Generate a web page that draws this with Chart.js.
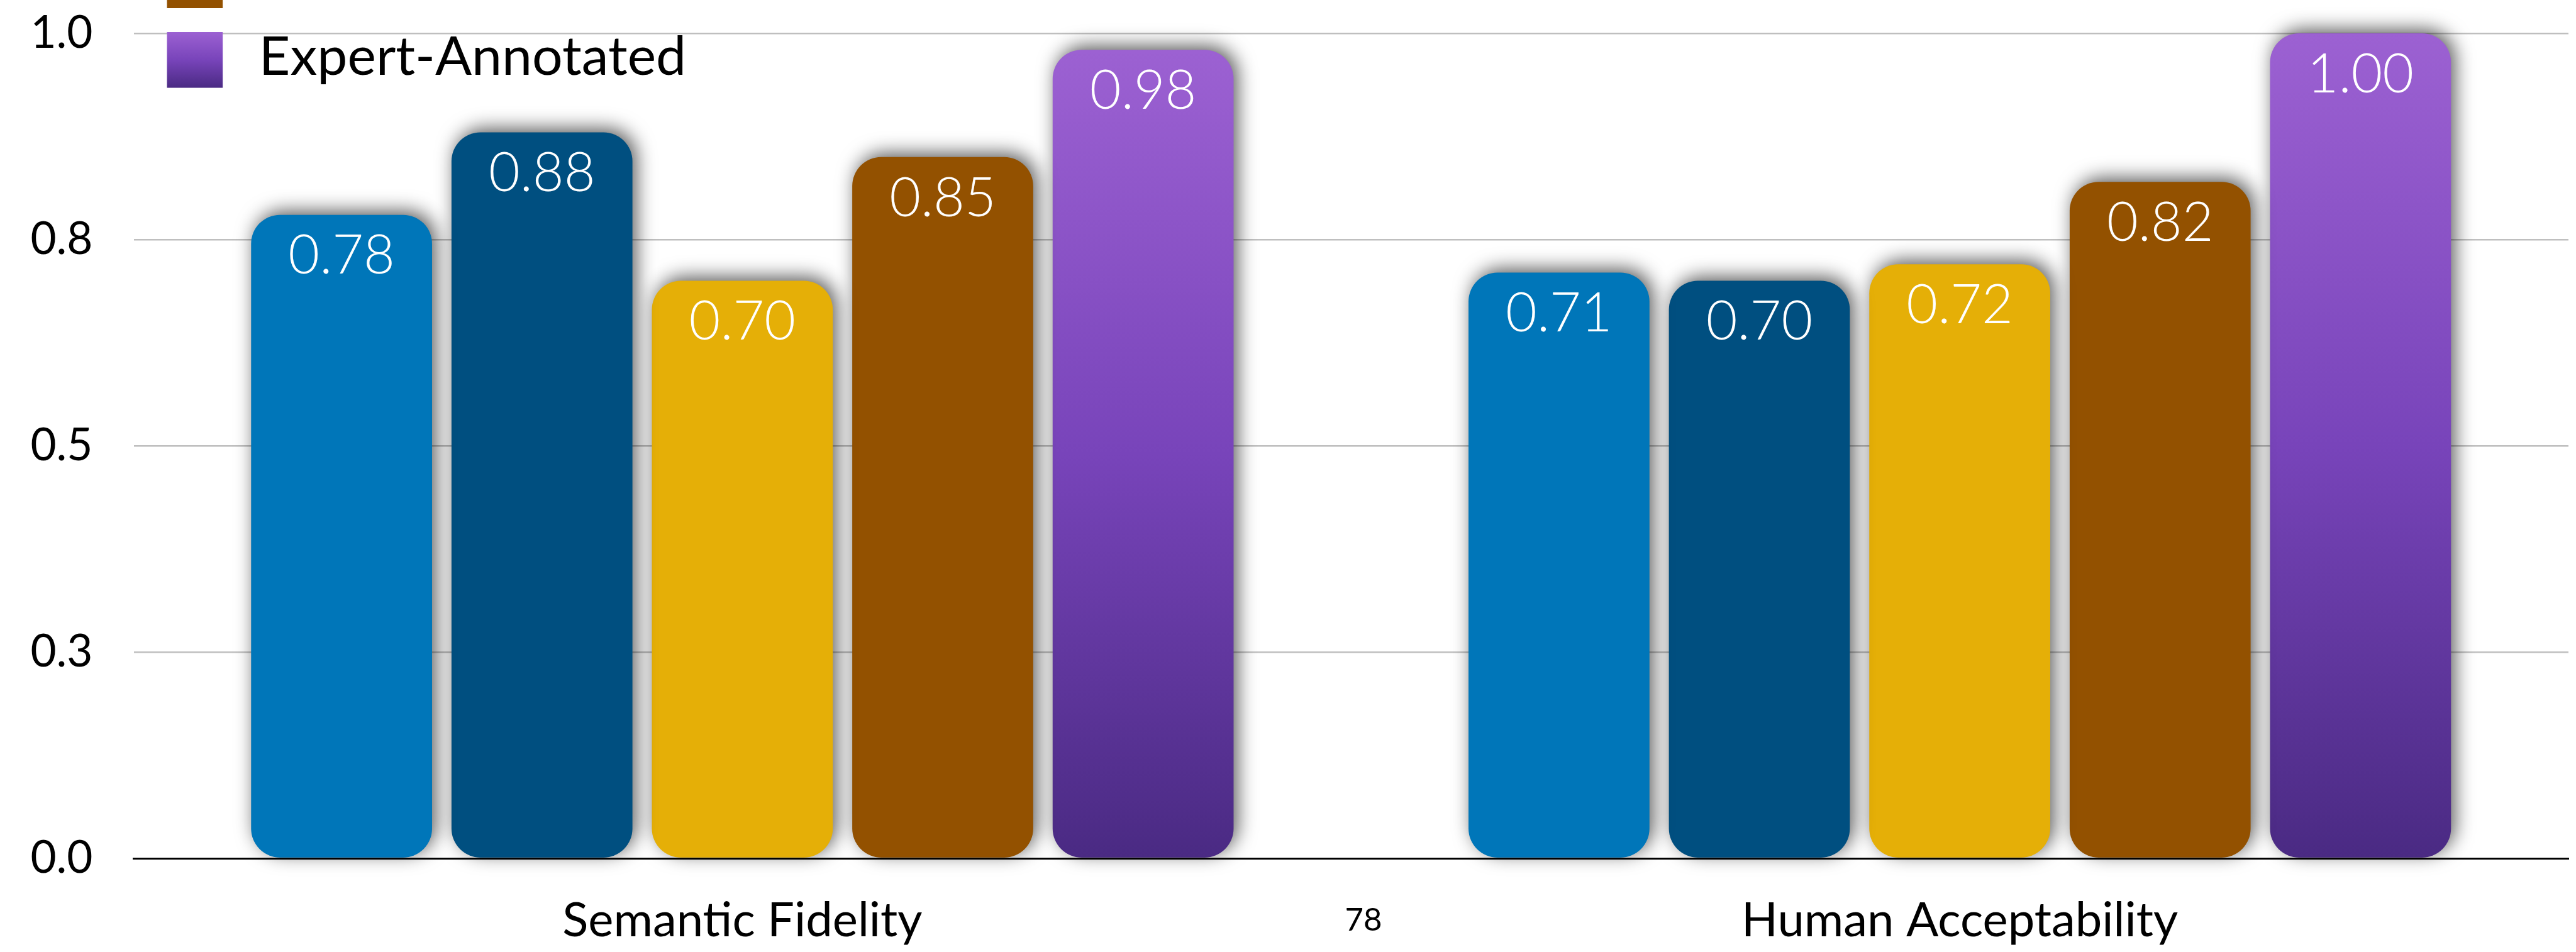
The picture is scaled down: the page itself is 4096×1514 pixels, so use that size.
<!DOCTYPE html>
<html>
<head>
<meta charset="utf-8">
<script src="https://cdn.jsdelivr.net/npm/chart.js@4/dist/chart.umd.min.js"></script>
<style>
  html, body { margin: 0; padding: 0; background: #ffffff; overflow: hidden; }
  #wrap { position: relative; width: 4096px; height: 1514px; }
</style>
</head>
<body>
<div id="wrap"><canvas id="chart"></canvas></div>
<script>
// Categories and series
const categories = ['Semantic Fidelity', 'Human Acceptability'];
const seriesNames = ['Model A', 'Model B', 'Model C', 'Model D', 'Expert-Annotated'];
const seriesA = [0.78, 0.71];
const seriesB = [0.88, 0.70];
const seriesC = [0.70, 0.72];
const seriesD = [0.85, 0.82];
const expertAnnotated = [0.98, 1.00];
const yTickValues = [0, 0.25, 0.5, 0.75, 1];
const yTickLabels = ['0.0', '0.3', '0.5', '0.8', '1.0'];
const pageNumber = '78';

const FONT = 'Lato, "Open Sans", sans-serif';
const TEXT_WEIGHT = 400;
const VALUE_WEIGHT = 300;
const solidColors = ['#0076B9', '#004F80', '#E5AF07', '#935100', null];

function purpleGradient(ctx, top, bottom) {
  const g = ctx.createLinearGradient(0, top, 0, bottom);
  g.addColorStop(0, '#9C61D2');
  g.addColorStop(0.5, '#7844BA');
  g.addColorStop(1, '#4A2A83');
  return g;
}

function purpleFill(c) {
  const chart = c.chart;
  if (!chart.chartArea || c.type !== 'data') return '#7844BA';
  const y = chart.scales.y;
  return purpleGradient(chart.ctx, y.getPixelForValue(c.raw), y.getPixelForValue(0));
}

const seriesValues = [seriesA, seriesB, seriesC, seriesD, expertAnnotated];

// Soft drop shadow under the bars, then white value labels on top of them
const barDecor = {
  id: 'barDecor',
  beforeDatasetsDraw(chart) {
    const ctx = chart.ctx;
    ctx.save();
    ctx.shadowColor = 'rgba(0,0,0,0.65)';
    ctx.shadowBlur = 30;
    ctx.shadowOffsetX = 6;
    ctx.shadowOffsetY = -6;
  },
  afterDatasetsDraw(chart) {
    const ctx = chart.ctx;
    ctx.restore();
    ctx.save();
    ctx.fillStyle = '#ffffff';
    ctx.font = VALUE_WEIGHT + ' 86px ' + FONT;
    ctx.textAlign = 'center';
    ctx.textBaseline = 'middle';
    chart.data.datasets.forEach((ds, di) => {
      const meta = chart.getDatasetMeta(di);
      meta.data.forEach((bar, i) => {
        ctx.fillText(ds.data[i].toFixed(2), bar.x, bar.y + 66);
      });
    });
    ctx.restore();
  }
};

// Vertical legend stacked upward from the top of the plot area
const stackedLegend = {
  id: 'stackedLegend',
  afterDraw(chart) {
    const ctx = chart.ctx;
    const area = chart.chartArea;
    const n = chart.data.datasets.length;
    const box = 88.6, pitch = 126.6;
    const x = area.left + 53;
    ctx.save();
    ctx.font = TEXT_WEIGHT + ' 86px ' + FONT;
    ctx.textAlign = 'left';
    ctx.textBaseline = 'middle';
    chart.data.datasets.forEach((ds, i) => {
      const top = area.top - 2 + (i - (n - 1)) * pitch;
      if (top + box < 0) return;
      ctx.fillStyle = solidColors[i] || purpleGradient(ctx, top, top + box);
      ctx.fillRect(x, top, box, box);
      ctx.fillStyle = '#000000';
      ctx.fillText(ds.label, x + box + 57.7, top + box / 2 - 4);
    });
    ctx.restore();
  }
};

// Page number under the plot
const pageMark = {
  id: 'pageMark',
  afterDraw(chart) {
    const ctx = chart.ctx;
    ctx.save();
    ctx.font = TEXT_WEIGHT + ' 51px ' + FONT;
    ctx.fillStyle = '#000000';
    ctx.textAlign = 'center';
    ctx.textBaseline = 'middle';
    ctx.fillText(pageNumber, chart.width * 0.5293, chart.chartArea.bottom + 99);
    ctx.restore();
  }
};

function build() {
  new Chart(document.getElementById('chart'), {
    type: 'bar',
    data: {
      labels: categories,
      datasets: seriesNames.map((name, i) => ({
        label: name,
        data: seriesValues[i],
        backgroundColor: solidColors[i] || purpleFill,
        borderWidth: 0,
        borderRadius: 46,
        borderSkipped: false,
        categoryPercentage: 0.823,
        barPercentage: 0.903,
        clip: false
      }))
    },
    options: {
      responsive: true,
      maintainAspectRatio: false,
      animation: false,
      layout: { padding: { top: 53, right: 12, left: 0, bottom: 0 } },
      plugins: {
        legend: { display: false },
        tooltip: { enabled: false }
      },
      scales: {
        x: {
          grid: { display: false },
          border: { display: true, color: '#000000', width: 3, z: 1 },
          ticks: { color: '#000000', font: { family: FONT, size: 76, weight: TEXT_WEIGHT, lineHeight: 1.2 }, padding: 46 },
          afterFit(s) { s.height = 149; s.paddingLeft = 0; s.paddingRight = 0; }
        },
        y: {
          min: 0,
          max: 1,
          afterBuildTicks(s) { s.ticks = yTickValues.map(v => ({ value: v })); },
          grid: { color: '#BFBFBF', lineWidth: 2.5, drawTicks: false },
          border: { display: false },
          ticks: {
            color: '#000000',
            font: { family: FONT, size: 71, weight: TEXT_WEIGHT },
            padding: 65,
            callback: (v, i) => yTickLabels[i]
          },
          afterFit(s) { s.width = 212.5; s.paddingTop = 0; s.paddingBottom = 0; }
        }
      }
    },
    plugins: [barDecor, stackedLegend, pageMark]
  });
}

if (document.fonts && document.fonts.load) {
  Promise.all([
    document.fonts.load(TEXT_WEIGHT + ' 76px Lato'),
    document.fonts.load(VALUE_WEIGHT + ' 86px Lato')
  ]).then(build, build);
} else {
  build();
}
</script>
</body>
</html>
